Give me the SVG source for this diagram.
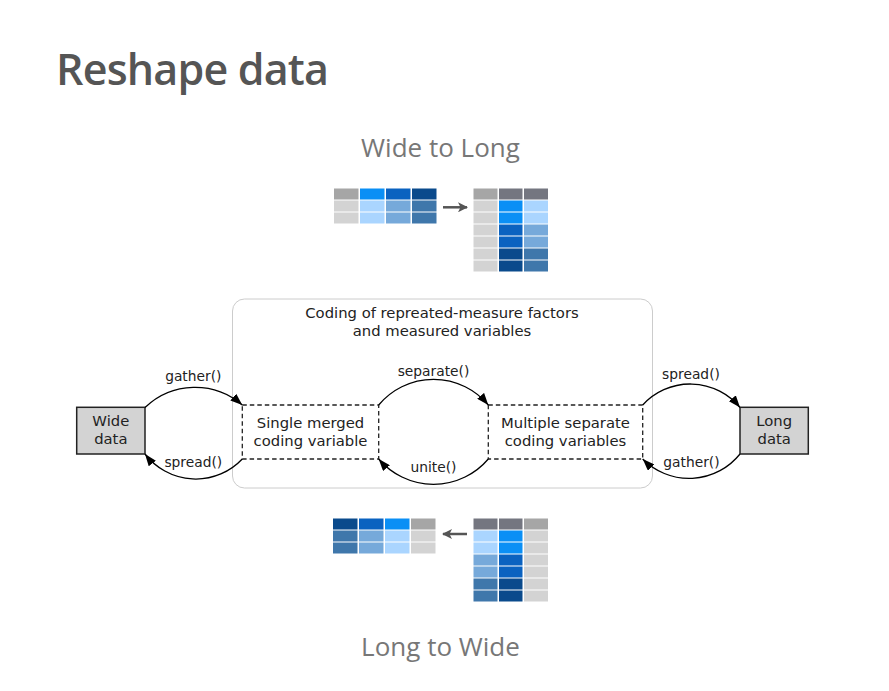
<svg xmlns="http://www.w3.org/2000/svg" width="889" height="691" viewBox="0 0 889 691">
<style>
.title{font-family:"Open Sans","Liberation Sans",sans-serif;font-weight:600;font-size:43px;letter-spacing:-0.8px;fill:#555555}
.sub{font-family:"Open Sans","Liberation Sans",sans-serif;font-size:26px;fill:#777777;text-anchor:middle}
.t{font-family:"DejaVu Sans","Liberation Sans",sans-serif;font-size:14.8px;fill:#222222;text-anchor:middle}
.lbl{font-family:"DejaVu Sans","Liberation Sans",sans-serif;font-size:13.8px;fill:#222222;text-anchor:middle}
.solid{fill:#d3d3d3;stroke:#222222;stroke-width:1.5}
.dash{fill:none;stroke:#222222;stroke-width:1.3;stroke-dasharray:4.5,3}
.edge{fill:none;stroke:#000000;stroke-width:1.3;marker-end:url(#ah)}
.g0{fill:#a6a6a6}.g1{fill:#d3d3d3}.g2{fill:#747680}
.b1{fill:#0a8ff5}.b2{fill:#0a62c0}.b3{fill:#0a4a8c}
.l1{fill:#aad5ff}.l2{fill:#76a9da}.l3{fill:#3f77ab}
.arr{stroke:#555555;stroke-width:2.5;fill:none}
</style>
<defs>
<marker id="ah" viewBox="0 0 12 9" refX="12" refY="4.5" markerWidth="12" markerHeight="9" markerUnits="userSpaceOnUse" orient="auto">
<path d="M0,0 L12,4.5 L0,9 z" fill="#000000"/>
</marker>
<marker id="ga" viewBox="0 0 10 10" refX="9" refY="5" markerWidth="10" markerHeight="10" markerUnits="userSpaceOnUse" orient="auto">
<path d="M0,0 L10,5 L0,10 L2.5,5 z" fill="#555555"/>
</marker>
</defs>
<rect width="889" height="691" fill="#ffffff"/>
<text class="title" x="56" y="85">Reshape data</text>
<text class="sub" x="440.5" y="156.5">Wide to Long</text>
<text class="sub" x="440.5" y="655.5">Long to Wide</text>

<g id="wide-to-long">
<g id="wtl-wide">
<rect class="g0" x="334" y="188.5" width="24.5" height="11"/>
<rect class="b1" x="360" y="188.5" width="24.5" height="11"/>
<rect class="b2" x="386" y="188.5" width="24.5" height="11"/>
<rect class="b3" x="412" y="188.5" width="24.5" height="11"/>
<rect class="g1" x="334" y="200.5" width="24.5" height="11"/>
<rect class="l1" x="360" y="200.5" width="24.5" height="11"/>
<rect class="l2" x="386" y="200.5" width="24.5" height="11"/>
<rect class="l3" x="412" y="200.5" width="24.5" height="11"/>
<rect class="g1" x="334" y="212.5" width="24.5" height="11"/>
<rect class="l1" x="360" y="212.5" width="24.5" height="11"/>
<rect class="l2" x="386" y="212.5" width="24.5" height="11"/>
<rect class="l3" x="412" y="212.5" width="24.5" height="11"/>
</g>
<line class="arr" x1="443" y1="207.3" x2="467" y2="207.3" marker-end="url(#ga)"/>
<g id="wtl-long">
<rect class="g0" x="473.5" y="188.5" width="24" height="11"/>
<rect class="g2" x="499" y="188.5" width="23.5" height="11"/>
<rect class="g2" x="524" y="188.5" width="24" height="11"/>
<rect class="g1" x="473.5" y="200.5" width="24" height="11"/>
<rect class="b1" x="499" y="200.5" width="23.5" height="11"/>
<rect class="l1" x="524" y="200.5" width="24" height="11"/>
<rect class="g1" x="473.5" y="212.5" width="24" height="11"/>
<rect class="b1" x="499" y="212.5" width="23.5" height="11"/>
<rect class="l1" x="524" y="212.5" width="24" height="11"/>
<rect class="g1" x="473.5" y="224.5" width="24" height="11"/>
<rect class="b2" x="499" y="224.5" width="23.5" height="11"/>
<rect class="l2" x="524" y="224.5" width="24" height="11"/>
<rect class="g1" x="473.5" y="236.5" width="24" height="11"/>
<rect class="b2" x="499" y="236.5" width="23.5" height="11"/>
<rect class="l2" x="524" y="236.5" width="24" height="11"/>
<rect class="g1" x="473.5" y="248.5" width="24" height="11"/>
<rect class="b3" x="499" y="248.5" width="23.5" height="11"/>
<rect class="l3" x="524" y="248.5" width="24" height="11"/>
<rect class="g1" x="473.5" y="260.5" width="24" height="11"/>
<rect class="b3" x="499" y="260.5" width="23.5" height="11"/>
<rect class="l3" x="524" y="260.5" width="24" height="11"/>
</g>
</g>

<g id="long-to-wide">
<g id="ltw-wide">
<rect class="b3" x="333" y="518.5" width="24.5" height="11"/>
<rect class="b2" x="359" y="518.5" width="24.5" height="11"/>
<rect class="b1" x="385" y="518.5" width="24.5" height="11"/>
<rect class="g0" x="411" y="518.5" width="24.5" height="11"/>
<rect class="l3" x="333" y="530.5" width="24.5" height="11"/>
<rect class="l2" x="359" y="530.5" width="24.5" height="11"/>
<rect class="l1" x="385" y="530.5" width="24.5" height="11"/>
<rect class="g1" x="411" y="530.5" width="24.5" height="11"/>
<rect class="l3" x="333" y="542.5" width="24.5" height="11"/>
<rect class="l2" x="359" y="542.5" width="24.5" height="11"/>
<rect class="l1" x="385" y="542.5" width="24.5" height="11"/>
<rect class="g1" x="411" y="542.5" width="24.5" height="11"/>
</g>
<line class="arr" x1="467" y1="534" x2="443" y2="534" marker-end="url(#ga)"/>
<g id="ltw-long">
<rect class="g2" x="473.5" y="518.5" width="24" height="11"/>
<rect class="g2" x="499" y="518.5" width="23.5" height="11"/>
<rect class="g0" x="524" y="518.5" width="24" height="11"/>
<rect class="l1" x="473.5" y="530.5" width="24" height="11"/>
<rect class="b1" x="499" y="530.5" width="23.5" height="11"/>
<rect class="g1" x="524" y="530.5" width="24" height="11"/>
<rect class="l1" x="473.5" y="542.5" width="24" height="11"/>
<rect class="b1" x="499" y="542.5" width="23.5" height="11"/>
<rect class="g1" x="524" y="542.5" width="24" height="11"/>
<rect class="l2" x="473.5" y="554.5" width="24" height="11"/>
<rect class="b2" x="499" y="554.5" width="23.5" height="11"/>
<rect class="g1" x="524" y="554.5" width="24" height="11"/>
<rect class="l2" x="473.5" y="566.5" width="24" height="11"/>
<rect class="b2" x="499" y="566.5" width="23.5" height="11"/>
<rect class="g1" x="524" y="566.5" width="24" height="11"/>
<rect class="l3" x="473.5" y="578.5" width="24" height="11"/>
<rect class="b3" x="499" y="578.5" width="23.5" height="11"/>
<rect class="g1" x="524" y="578.5" width="24" height="11"/>
<rect class="l3" x="473.5" y="590.5" width="24" height="11"/>
<rect class="b3" x="499" y="590.5" width="23.5" height="11"/>
<rect class="g1" x="524" y="590.5" width="24" height="11"/>
</g>
</g>

<g id="coding-cluster">
<rect x="232.5" y="299" width="420" height="189" rx="12" ry="12" fill="none" stroke="#cccccc" stroke-width="1"/>
<text class="t" x="442" y="318">Coding of repreated-measure factors</text>
<text class="t" x="442" y="335.5">and measured variables</text>
</g>

<g id="wide-data">
<rect class="solid" x="76.7" y="407.3" width="68.3" height="46.7"/>
<text class="t" x="110.8" y="425.7">Wide</text>
<text class="t" x="110.8" y="444">data</text>
</g>

<g id="single-merged">
<rect class="dash" x="242.3" y="405" width="136.4" height="54"/>
<text class="t" x="310.5" y="428.3">Single merged</text>
<text class="t" x="310.5" y="445.7">coding variable</text>
</g>

<g id="multiple-separate">
<rect class="dash" x="488.3" y="405" width="154.4" height="54"/>
<text class="t" x="565.5" y="428.3">Multiple separate</text>
<text class="t" x="565.5" y="445.7">coding variables</text>
</g>

<g id="long-data">
<rect class="solid" x="740" y="407.3" width="68.3" height="46.7"/>
<text class="t" x="774.2" y="425.7">Long</text>
<text class="t" x="774.2" y="444">data</text>
</g>

<g id="connectors">
<path class="edge" d="M145,407.5 A72,72 0 0 1 242.3,405"/>
<path class="edge" d="M242.3,459 A64,64 0 0 1 145,454"/>
<path class="edge" d="M378.7,405 A71.3,71.3 0 0 1 488.3,405"/>
<path class="edge" d="M488.3,459 A72,72 0 0 1 378.7,459"/>
<path class="edge" d="M642.7,405 A64.4,64.4 0 0 1 740,407.5"/>
<path class="edge" d="M740,454 A65.2,65.2 0 0 1 642.7,459"/>
<text class="lbl" x="193.3" y="380.7">gather()</text>
<text class="lbl" x="193.3" y="467.3">spread()</text>
<text class="lbl" x="433.5" y="376">separate()</text>
<text class="lbl" x="433.5" y="471.7">unite()</text>
<text class="lbl" x="691" y="379">spread()</text>
<text class="lbl" x="691.5" y="467.3">gather()</text>
</g>
</svg>
